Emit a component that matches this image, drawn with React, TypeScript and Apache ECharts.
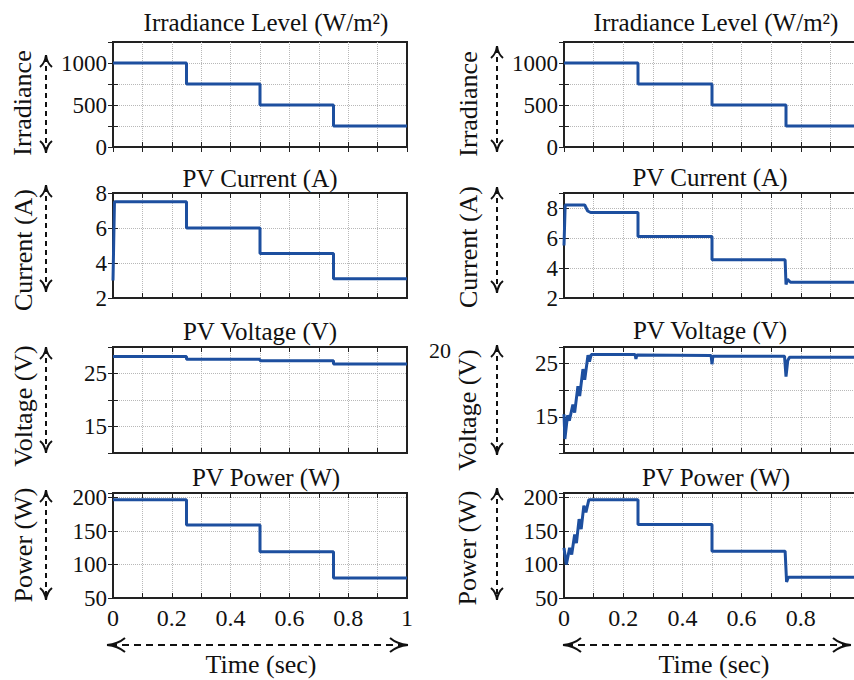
import React, { useEffect, useRef } from 'react';
import * as echarts from 'echarts';

// ---------- data ----------
const stepTimes = [0, 0.25, 0.5, 0.75, 1];
const irradianceLevels = [1000, 750, 500, 250];
const leftVoltageLevels = [28.2, 27.7, 27.4, 26.8];
const leftPowerLevels = [197, 159, 119, 80];

const leftCurrentT = [0, 0.005, 0.25, 0.25, 0.5, 0.5, 0.75, 0.75, 1];
const leftCurrentV = [3.0, 7.5, 7.5, 6.0, 6.0, 4.55, 4.55, 3.1, 3.1];

const rightCurrentT = [0, 0.004, 0.07, 0.08, 0.09, 0.25, 0.25, 0.5, 0.5, 0.747, 0.75, 0.755, 0.765, 1];
const rightCurrentV = [5.5, 8.2, 8.2, 7.8, 7.7, 7.7, 6.1, 6.1, 4.55, 4.55, 2.9, 3.25, 3.05, 3.05];

const rightVoltageT = [0, 0.003, 0.012, 0.018, 0.03, 0.036, 0.047, 0.053, 0.064, 0.07, 0.081, 0.086, 0.092, 0.24, 0.243, 0.246, 0.497, 0.5, 0.503, 0.745, 0.75, 0.756, 0.762, 1];
const rightVoltageV = [15.5, 10.9, 15.3, 14.3, 17.3, 15.8, 20.7, 18.9, 23.9, 21.9, 26.5, 25.3, 26.6, 26.6, 25.8, 26.5, 26.4, 24.8, 26.3, 26.3, 22.5, 25.5, 26.1, 26.1];

const rightPowerT = [0, 0.008, 0.019, 0.026, 0.036, 0.042, 0.051, 0.058, 0.067, 0.074, 0.084, 0.25, 0.25, 0.5, 0.5, 0.747, 0.752, 0.758, 1];
const rightPowerV = [125, 100, 125, 115, 145, 132, 168, 153, 188, 178, 197, 197, 160, 160, 120, 120, 74, 81, 81];

const xTickLabels = ['0', '0.2', '0.4', '0.6', '0.8', '1'];
const irradianceTicks = [0, 500, 1000];
const currentTicks = [2, 4, 6, 8];
const voltageTicks = [15, 25];
const powerTicks = [50, 100, 150, 200];

const titles = ['Irradiance Level (W/m²)', 'PV Current (A)', 'PV Voltage (V)', 'PV Power (W)'];
const yNames = ['Irradiance', 'Current (A)', 'Voltage (V)', 'Power (W)'];
const xName = 'Time (sec)';
const strayLabel = '20';

// ---------- helpers ----------
const steps = (times: number[], levels: number[]) => {
  const pts: number[][] = [];
  for (let i = 0; i < levels.length; i++) {
    pts.push([times[i], levels[i]]);
    pts.push([times[i + 1], levels[i]]);
  }
  return pts;
};
const zip = (t: number[], v: number[]) => t.map((x, i) => [x, v[i]]);

// ---------- layout ----------
const FONT = '"Liberation Serif", "Times New Roman", Times, serif';
const INK = '#111';
const LINE = '#1d4f9f';
const colLeft = [113, 564];
const colWidth = [294, 296];
const rowTop = [42, 193, 347, 493];
const rowHeight = [105, 105, 106, 105];

type Panel = {
  row: number;
  col: number;
  data: number[][];
  y: any;
  ticks: number[];
};

const panels: Panel[] = [
  { row: 0, col: 0, data: steps(stepTimes, irradianceLevels), y: { min: 0, max: 1250, interval: 250 }, ticks: irradianceTicks },
  { row: 0, col: 1, data: steps(stepTimes, irradianceLevels), y: { min: 0, max: 1250, interval: 250 }, ticks: irradianceTicks },
  { row: 1, col: 0, data: zip(leftCurrentT, leftCurrentV), y: { min: 2, max: 8, interval: 2 }, ticks: currentTicks },
  { row: 1, col: 1, data: zip(rightCurrentT, rightCurrentV), y: { min: 2, max: 9, interval: 2 }, ticks: currentTicks },
  { row: 2, col: 0, data: steps(stepTimes, leftVoltageLevels), y: { min: 10, max: 30, interval: 5 }, ticks: voltageTicks },
  { row: 2, col: 1, data: zip(rightVoltageT, rightVoltageV), y: { min: 8.3, max: 28, splitNumber: 4 }, ticks: voltageTicks },
  { row: 3, col: 0, data: steps(stepTimes, leftPowerLevels), y: { min: 50, max: 207, interval: 50 }, ticks: powerTicks },
  { row: 3, col: 1, data: zip(rightPowerT, rightPowerV), y: { min: 50, max: 207, interval: 50 }, ticks: powerTicks },
];

const titlePos = [
  [[266, 22], [716, 22]],
  [[260, 178], [710, 177]],
  [[260, 331], [710, 330]],
  [[266, 477], [716, 477]],
];
const namePos = [
  [[22, 103], [468, 104]],
  [[23, 250], [468, 247]],
  [[23, 406], [467, 410]],
  [[23, 545], [467, 548]],
];
const yArrowX = [46, 497];
const yArrowSpan = [
  [[55, 153], [46, 152]],
  [[185, 292], [187, 293]],
  [[347, 453], [345, 455]],
  [[490, 600], [488, 600]],
];
const xArrowSpan = [[107, 408], [563, 851]];
const xArrowY = 645;
const xNamePos = [[261, 664], [714, 664]];

const strokeStyle = { stroke: INK, lineWidth: 2, fill: 'none' };

function vArrow(x: number, y1: number, y2: number) {
  return [
    { type: 'line', shape: { x1: x, y1: y1 + 2, x2: x, y2: y2 - 2 }, style: { stroke: INK, lineWidth: 2, lineDash: [5, 4] } },
    { type: 'bezierCurve', shape: { x1: x, y1: y1, x2: x - 6, y2: y1 + 12, cpx1: x - 1, cpy1: y1 + 8 }, style: strokeStyle },
    { type: 'bezierCurve', shape: { x1: x, y1: y1, x2: x + 6, y2: y1 + 12, cpx1: x + 1, cpy1: y1 + 8 }, style: strokeStyle },
    { type: 'bezierCurve', shape: { x1: x, y1: y2, x2: x - 6, y2: y2 - 12, cpx1: x - 1, cpy1: y2 - 8 }, style: strokeStyle },
    { type: 'bezierCurve', shape: { x1: x, y1: y2, x2: x + 6, y2: y2 - 12, cpx1: x + 1, cpy1: y2 - 8 }, style: strokeStyle },
  ];
}
function hArrow(y: number, x1: number, x2: number) {
  return [
    { type: 'line', shape: { x1: x1 + 3, y1: y, x2: x2 - 3, y2: y }, style: { stroke: INK, lineWidth: 2, lineDash: [7, 5] } },
    { type: 'bezierCurve', shape: { x1: x1, y1: y, x2: x1 + 18, y2: y - 7, cpx1: x1 + 11, cpy1: y - 1 }, style: strokeStyle },
    { type: 'bezierCurve', shape: { x1: x1, y1: y, x2: x1 + 18, y2: y + 7, cpx1: x1 + 11, cpy1: y + 1 }, style: strokeStyle },
    { type: 'bezierCurve', shape: { x1: x2, y1: y, x2: x2 - 18, y2: y - 7, cpx1: x2 - 11, cpy1: y - 1 }, style: strokeStyle },
    { type: 'bezierCurve', shape: { x1: x2, y1: y, x2: x2 - 18, y2: y + 7, cpx1: x2 - 11, cpy1: y + 1 }, style: strokeStyle },
  ];
}

function buildOption() {
  const grid: any[] = [];
  const xAxis: any[] = [];
  const yAxis: any[] = [];
  const series: any[] = [];
  const tickStyle = { show: true, inside: true, length: 5, lineStyle: { color: '#222', width: 1 } };
  const splitStyle = { show: true, showMinLine: false, showMaxLine: false, lineStyle: { color: '#b8b8b8', type: 'dotted', width: 1 } };

  panels.forEach((p, i) => {
    grid.push({
      left: colLeft[p.col],
      width: colWidth[p.col],
      top: rowTop[p.row],
      height: rowHeight[p.row],
      containLabel: false,
      outerBoundsMode: 'none',
      show: true,
      backgroundColor: '#fff',
      borderColor: '#222',
      borderWidth: 2,
    });
    xAxis.push({
      gridIndex: i, type: 'value', min: 0, max: 1, interval: 0.1, position: 'bottom',
      axisLine: { show: false }, axisTick: tickStyle, splitLine: splitStyle,
      axisLabel: {
        show: p.row === 3, interval: 0, showMinLabel: true, showMaxLabel: true, margin: 8,
        fontFamily: FONT, fontSize: 24, color: INK, hideOverlap: false,
        formatter: (v: number) => {
          const k = Math.round(v * 10);
          return k % 2 === 0 ? xTickLabels[k / 2] : '';
        },
      },
    });
    xAxis.push({
      gridIndex: i, type: 'value', min: 0, max: 1, interval: 0.1, position: 'top',
      axisLine: { show: false }, axisTick: tickStyle, splitLine: { show: false }, axisLabel: { show: false },
    });
    const fmt = (v: number) => (p.ticks.some((t) => Math.abs(t - v) < 1e-6) ? String(Math.round(v)) : '');
    yAxis.push({
      gridIndex: i, type: 'value', ...p.y, position: 'left',
      axisLine: { show: false }, axisTick: tickStyle, splitLine: splitStyle,
      axisLabel: { show: true, margin: 6, fontFamily: FONT, fontSize: 23, color: INK, formatter: fmt, showMinLabel: true, showMaxLabel: true },
    });
    yAxis.push({
      gridIndex: i, type: 'value', ...p.y, position: 'right',
      axisLine: { show: false }, axisTick: tickStyle, splitLine: { show: false }, axisLabel: { show: false },
    });
    series.push({
      type: 'line', xAxisIndex: 2 * i, yAxisIndex: 2 * i, data: p.data,
      symbol: 'none', showSymbol: false, clip: true,
      lineStyle: { color: LINE, width: 3 }, z: 3,
    });
  });

  const graphic: any[] = [];
  for (let r = 0; r < 4; r++) {
    for (let c = 0; c < 2; c++) {
      graphic.push({
        type: 'text', x: titlePos[r][c][0], y: titlePos[r][c][1],
        style: { text: titles[r], font: `25px ${FONT}`, fill: INK, textAlign: 'center', textVerticalAlign: 'middle' },
      });
      graphic.push({
        type: 'text', x: namePos[r][c][0], y: namePos[r][c][1], rotation: Math.PI / 2,
        style: { text: yNames[r], font: `26px ${FONT}`, fill: INK, textAlign: 'center', textVerticalAlign: 'middle' },
      });
      graphic.push(...vArrow(yArrowX[c], yArrowSpan[r][c][0], yArrowSpan[r][c][1]));
    }
  }
  for (let c = 0; c < 2; c++) {
    graphic.push(...hArrow(xArrowY, xArrowSpan[c][0], xArrowSpan[c][1]));
    graphic.push({
      type: 'text', x: xNamePos[c][0], y: xNamePos[c][1],
      style: { text: xName, font: `26px ${FONT}`, fill: INK, textAlign: 'center', textVerticalAlign: 'middle' },
    });
  }
  graphic.push({
    type: 'text', x: 440, y: 350,
    style: { text: strayLabel, font: `22px ${FONT}`, fill: INK, textAlign: 'center', textVerticalAlign: 'middle' },
  });

  return { animation: false, backgroundColor: '#fff', grid, xAxis, yAxis, series, graphic };
}

export default function App() {
  const ref = useRef<HTMLDivElement>(null);
  useEffect(() => {
    if (!ref.current) return;
    const chart = echarts.init(ref.current, null, { renderer: 'svg' });
    chart.setOption(buildOption() as any);
    return () => chart.dispose();
  }, []);
  return <div ref={ref} style={{ position: 'absolute', left: 0, top: 0, width: 854, height: 680, background: '#fff' }} />;
}
